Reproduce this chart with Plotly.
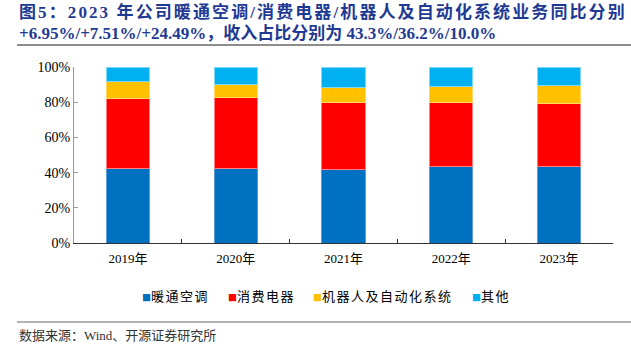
import plotly.graph_objects as go

years = ["2019年", "2020年", "2021年", "2022年", "2023年"]
series_names = ["暖通空调", "消费电器", "机器人及自动化系统", "其他"]
hvac = [42.6, 42.4, 41.5, 43.7, 43.3]
consumer = [39.6, 40.3, 38.6, 36.4, 36.2]
robot = [9.3, 7.6, 8.1, 8.7, 10.0]
other = [8.5, 9.7, 11.8, 11.2, 10.5]
colors = ["#0070C0", "#FF0000", "#FFC000", "#00B0F0"]
edge_colors = ["#5B9BD5", "#FF7C80", "#FFD966", "#7FD8F8"]

title1 = "图5：2023 年公司暖通空调/消费电器/机器人及自动化系统业务同比分别"
title2 = "+6.95%/+7.51%/+24.49%，收入占比分别为 43.3%/36.2%/10.0%"
source = "数据来源：Wind、开源证券研究所"

SERIF = "Liberation Serif, Times New Roman, Noto Sans CJK SC"

L, R, T, B = 74, 18, 67, 113
W, H = 631, 356
PW, PH = W - L - R, H - T - B


def px(x):
    return (x - L) / PW


def py(y):
    return (H - B - y) / PH


fig = go.Figure()
for name, vals, c, ec in zip(series_names, [hvac, consumer, robot, other], colors, edge_colors):
    fig.add_trace(go.Bar(
        x=years, y=vals, name=name,
        marker=dict(color=c, line=dict(color=ec, width=1)),
        width=0.4,
    ))

# legend drawn as text annotations (square glyph + label)
legend_x = [140, 226, 311, 470]
annotations = []
for name, c, lx in zip(series_names, colors, legend_x):
    annotations.append(dict(
        text=f"<span style='font-size:9px;color:{c}'>■</span><span style='letter-spacing:1.5px'>{name}</span>",
        xref="paper", yref="paper", x=px(lx), y=py(295),
        xanchor="left", yanchor="middle", showarrow=False,
        font=dict(family="Noto Sans CJK SC", size=13, color="#000000"),
    ))

annotations += [
    dict(text="<b><span style='letter-spacing:2.1px'>" + title1 + "</span></b>", xref="paper", yref="paper",
         x=px(17), y=py(12), xanchor="left", yanchor="middle",
         showarrow=False, font=dict(family=SERIF, size=17, color="#1F3A93")),
    dict(text="<b>" + title2 + "</b>", xref="paper", yref="paper",
         x=px(17), y=py(33), xanchor="left", yanchor="middle",
         showarrow=False, font=dict(family=SERIF, size=17, color="#1F3A93")),
    dict(text=source, xref="paper", yref="paper",
         x=px(17), y=py(335), xanchor="left", yanchor="middle",
         showarrow=False, font=dict(family=SERIF, size=13, color="#333333")),
]

fig.update_layout(
    barmode="stack",
    width=W, height=H,
    margin=dict(l=L, r=R, t=T, b=B),
    paper_bgcolor="white", plot_bgcolor="white",
    font=dict(family=SERIF, size=13, color="#000000"),
    showlegend=False,
    xaxis=dict(
        showline=True, linecolor="#333333", linewidth=1,
        ticks="inside", ticklen=4, tickcolor="#333333",
        tickson="boundaries",
        tickfont=dict(family=SERIF, size=13),
        ticklabelstandoff=3,
        showgrid=False,
    ),
    yaxis=dict(
        range=[0, 100], dtick=20, ticksuffix="%",
        showline=True, linecolor="#999999", linewidth=1,
        ticks="inside", ticklen=4, tickcolor="#999999",
        tickfont=dict(family=SERIF, size=14),
        showgrid=False, zeroline=False,
    ),
    shapes=[
        dict(type="line", xref="paper", yref="paper",
             x0=px(17), x1=px(631), y0=py(45), y1=py(45),
             line=dict(color="#666666", width=1.5)),
        dict(type="line", xref="paper", yref="paper",
             x0=px(17), x1=px(631), y0=py(322), y1=py(322),
             line=dict(color="#666666", width=1)),
    ],
    annotations=annotations,
)

fig.write_html("out.html", config={"displayModeBar": False},
               post_script="document.body.style.margin='0';")
